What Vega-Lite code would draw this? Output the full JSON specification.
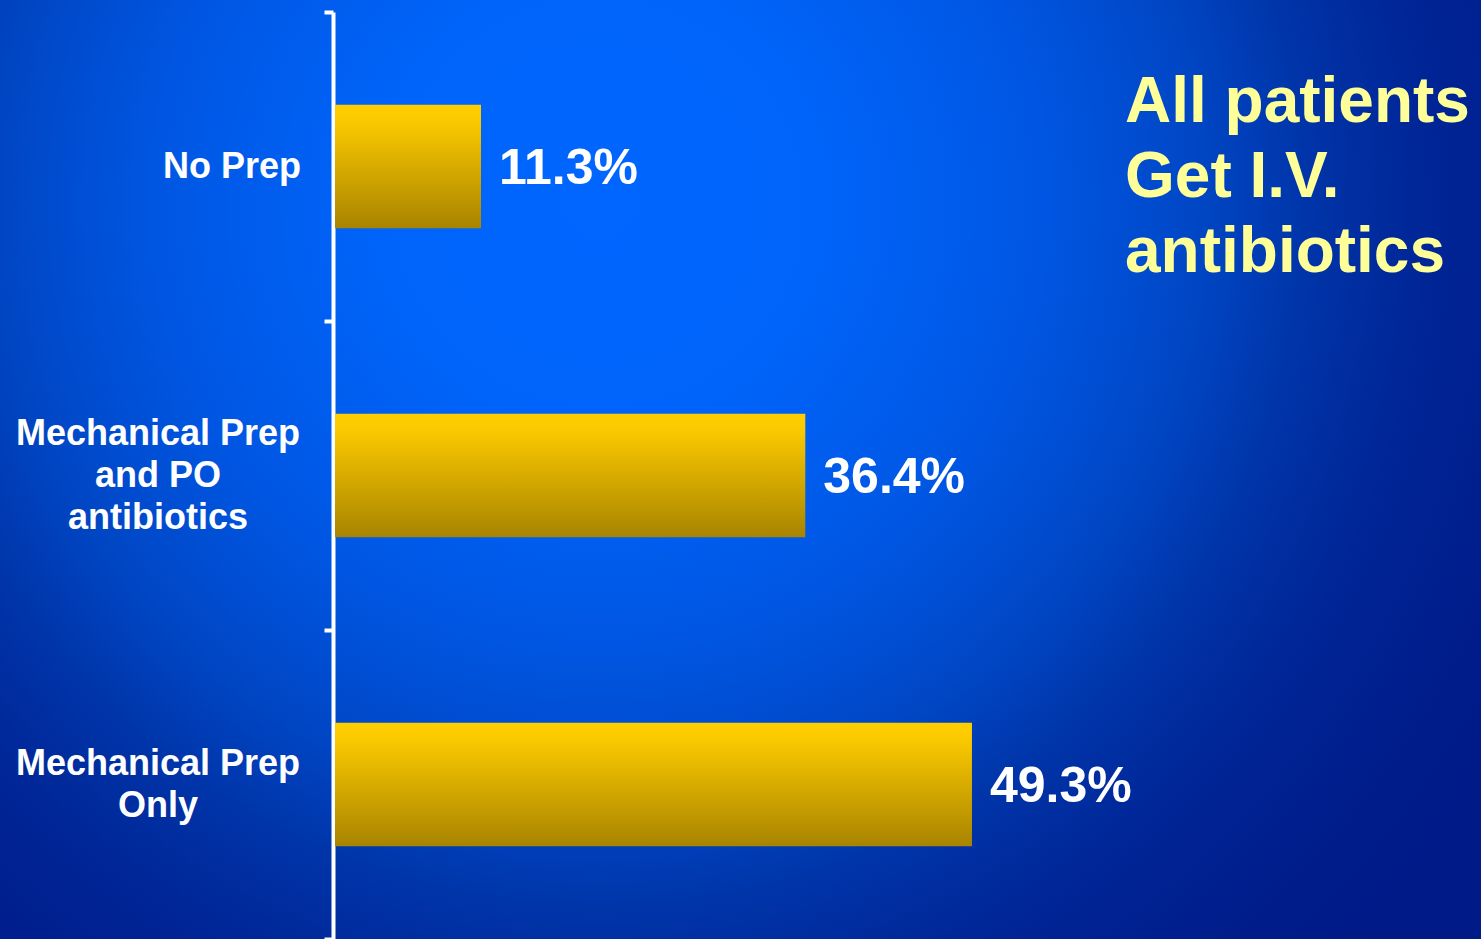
{
  "$schema": "https://vega.github.io/schema/vega-lite/v6.json",
  "width": 1481,
  "height": 939,
  "padding": 0,
  "autosize": {"type": "none"},
  "background": "#001A88",
  "title": {
    "text": ["All patients", "Get I.V.", "antibiotics"],
    "anchor": "start",
    "frame": "group",
    "orient": "top",
    "baseline": "top",
    "offset": 0,
    "dx": 1125,
    "dy": 285,
    "font": "Liberation Sans",
    "fontWeight": "bold",
    "fontSize": 64,
    "lineHeight": 75,
    "color": "#FFFF99"
  },
  "config": {
    "view": {
      "stroke": null,
      "fill": {
        "gradient": "radial",
        "x1": 0.405, "y1": 0.32, "r1": 0,
        "x2": 0.405, "y2": 0.32, "r2": 1,
        "stops": [
          {"offset": 0, "color": "#0066FF"},
          {"offset": 0.15, "color": "#0064FA"},
          {"offset": 0.3, "color": "#0056E2"},
          {"offset": 0.4, "color": "#0047C6"},
          {"offset": 0.48, "color": "#0034A8"},
          {"offset": 0.56, "color": "#002596"},
          {"offset": 0.66, "color": "#001C8A"},
          {"offset": 0.8, "color": "#001A86"},
          {"offset": 1, "color": "#001A86"}
        ]
      }
    }
  },
  "data": {
    "values": [
      {"group": "No Prep", "pct": 0.113},
      {"group": "Mechanical Prep\nand PO\nantibiotics", "pct": 0.364},
      {"group": "Mechanical Prep\nOnly", "pct": 0.493}
    ]
  },
  "encoding": {
    "y": {
      "field": "group",
      "type": "nominal",
      "sort": null,
      "scale": {"range": [12, 939], "paddingInner": 0, "paddingOuter": 0},
      "axis": {
        "title": null,
        "orient": "left",
        "offset": -333,
        "labels": false,
        "domainColor": "white",
        "domainWidth": 4,
        "tickColor": "white",
        "tickWidth": 4,
        "tickSize": 9,
        "tickBand": "extent"
      }
    },
    "x": {
      "field": "pct",
      "type": "quantitative",
      "scale": {"domain": [-0.2593, 0.887], "zero": false, "nice": false},
      "axis": null
    }
  },
  "layer": [
    {
      "mark": {
        "type": "bar",
        "height": {"band": 0.4},
        "color": {
          "gradient": "linear",
          "x1": 0, "y1": 0, "x2": 0, "y2": 1,
          "stops": [
            {"offset": 0, "color": "#FFCE00"},
            {"offset": 0.12, "color": "#FCCA00"},
            {"offset": 1, "color": "#A88400"}
          ]
        }
      }
    },
    {
      "mark": {
        "type": "text",
        "align": "left",
        "baseline": "middle",
        "dx": 18,
        "dy": 2,
        "font": "Liberation Sans",
        "fontWeight": "bold",
        "fontSize": 50,
        "color": "white"
      },
      "encoding": {"text": {"field": "pct", "type": "quantitative", "format": ".1%"}}
    },
    {
      "transform": [{"filter": "datum.group == 'No Prep'"}],
      "mark": {
        "type": "text",
        "align": "right",
        "baseline": "middle",
        "font": "Liberation Sans",
        "fontWeight": "bold",
        "fontSize": 36,
        "color": "white"
      },
      "encoding": {
        "text": {"field": "group"},
        "x": {"datum": -0.0263, "type": "quantitative"}
      }
    },
    {
      "transform": [{"filter": "datum.group == 'Mechanical Prep\\nand PO\\nantibiotics'"}],
      "mark": {
        "type": "text",
        "align": "center",
        "baseline": "middle",
        "lineBreak": "\n",
        "lineHeight": 42,
        "dy": -42,
        "font": "Liberation Sans",
        "fontWeight": "bold",
        "fontSize": 36,
        "color": "white"
      },
      "encoding": {
        "text": {"field": "group"},
        "x": {"datum": -0.137, "type": "quantitative"}
      }
    },
    {
      "transform": [{"filter": "datum.group == 'Mechanical Prep\\nOnly'"}],
      "mark": {
        "type": "text",
        "align": "center",
        "baseline": "middle",
        "lineBreak": "\n",
        "lineHeight": 42,
        "dy": -21,
        "font": "Liberation Sans",
        "fontWeight": "bold",
        "fontSize": 36,
        "color": "white"
      },
      "encoding": {
        "text": {"field": "group"},
        "x": {"datum": -0.137, "type": "quantitative"}
      }
    }
  ]
}
